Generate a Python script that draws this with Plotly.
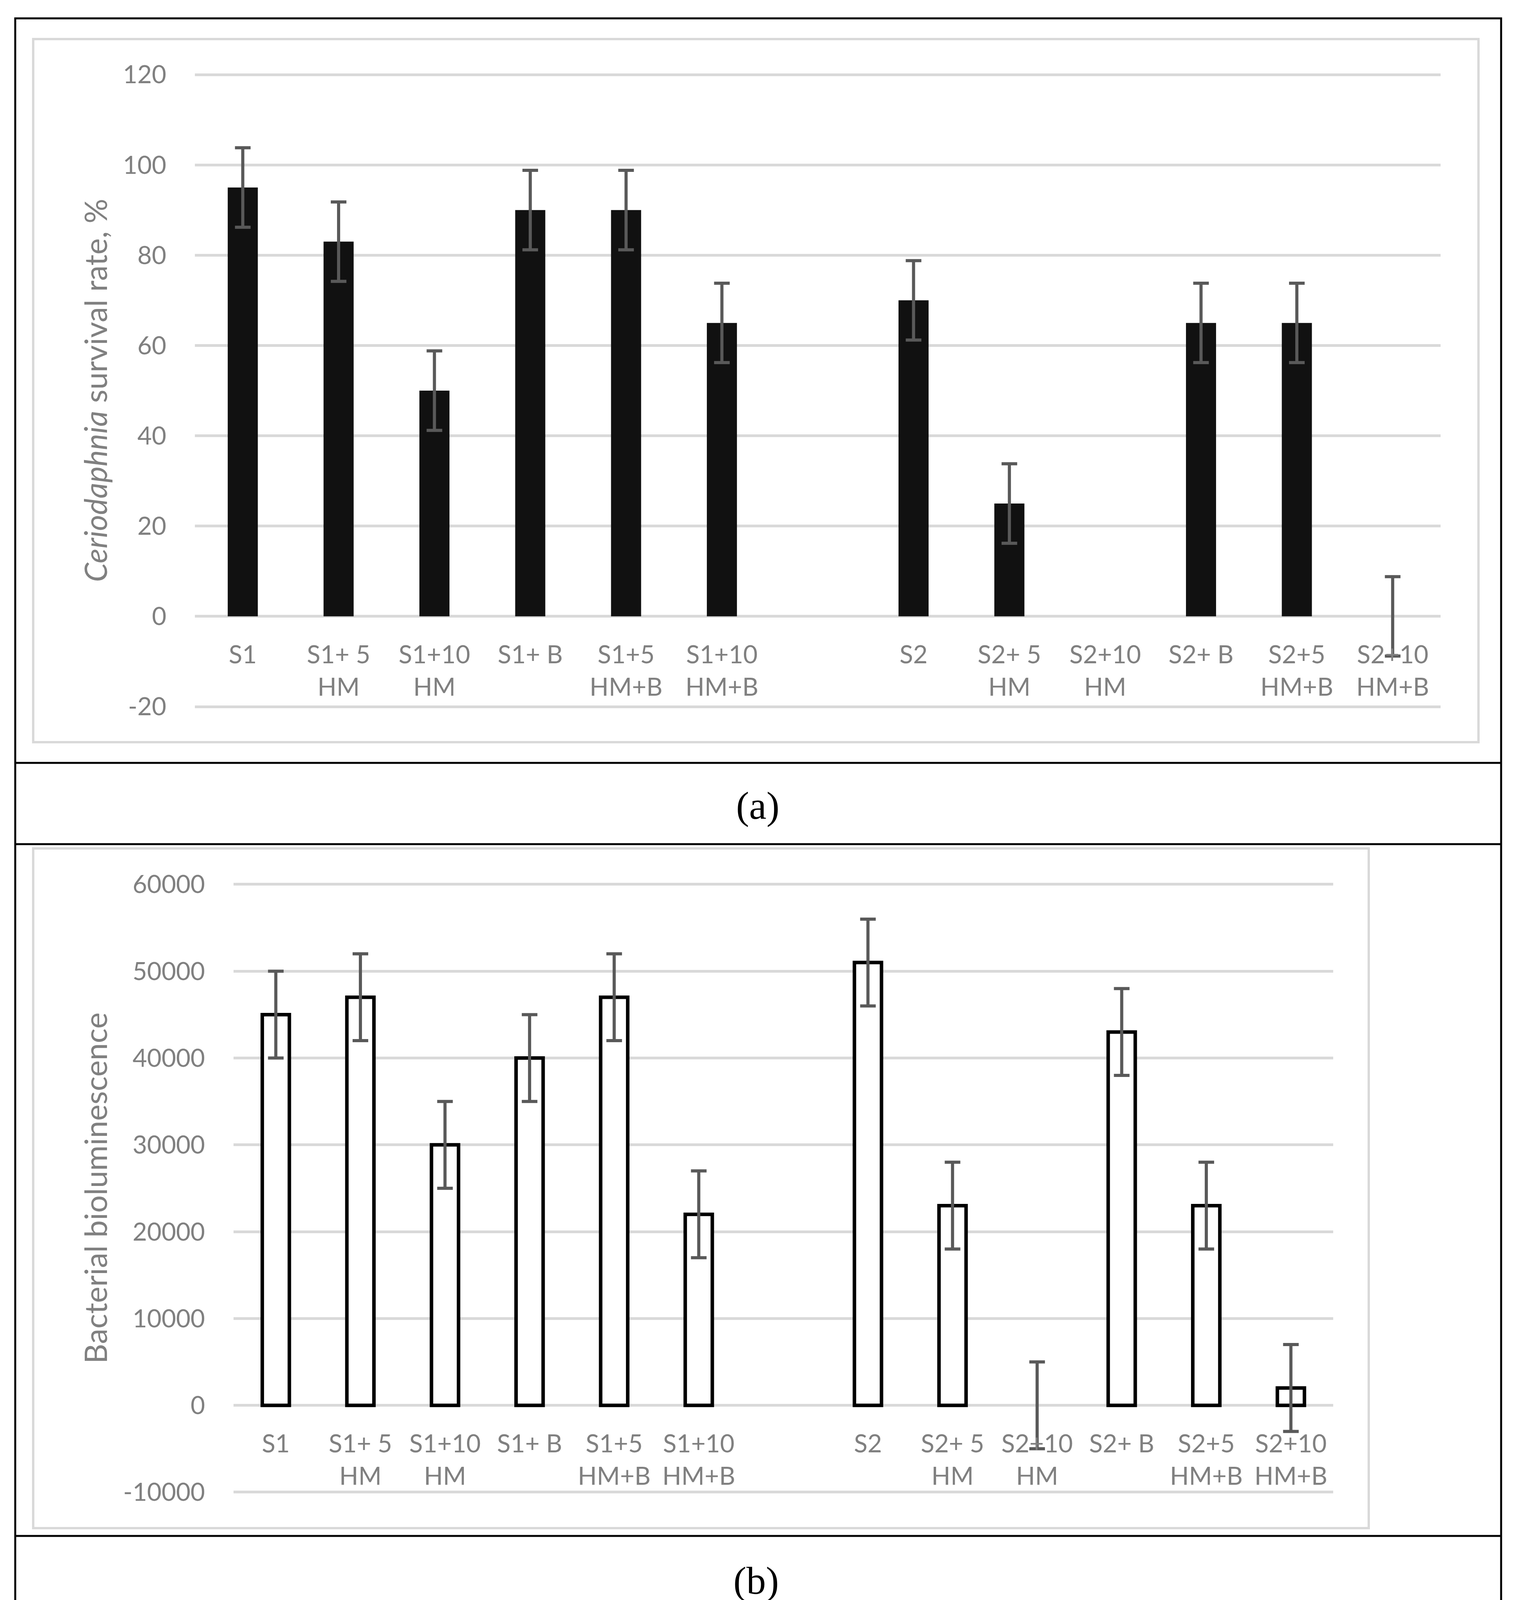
import plotly.graph_objects as go

# ---------------- data ----------------
categories = ["S1", "S1+ 5<br>HM", "S1+10<br>HM", "S1+ B", "S1+5<br>HM+B", "S1+10<br>HM+B",
              " ",
              "S2", "S2+ 5<br>HM", "S2+10<br>HM", "S2+ B", "S2+5<br>HM+B", "S2+10<br>HM+B"]
groups = ["S1", "S1+ 5<br>HM", "S1+10<br>HM", "S1+ B", "S1+5<br>HM+B", "S1+10<br>HM+B",
          "S2", "S2+ 5<br>HM", "S2+10<br>HM", "S2+ B", "S2+5<br>HM+B", "S2+10<br>HM+B"]

# S2+10 HM: no bar and no error bar shown in panel (a)
survival = [95, 83, 50, 90, 90, 65, 70, 25, None, 65, 65, 0]
survival_err = [8.8, 8.8, 8.8, 8.8, 8.8, 8.8, 8.8, 8.8, None, 8.8, 8.8, 8.8]

biolum = [45000, 47000, 30000, 40000, 47000, 22000, 51000, 23000, 0, 43000, 23000, 2000]
biolum_err = [5000, 5000, 5000, 5000, 5000, 5000, 5000, 5000, 5000, 5000, 5000, 5000]

ya_ticks = [-20, 0, 20, 40, 60, 80, 100, 120]
ya_labels = ["-20", "0", "20", "40", "60", "80", "100", "120"]
yb_ticks = [-10000, 0, 10000, 20000, 30000, 40000, 50000, 60000]
yb_labels = ["-10000", "0", "10000", "20000", "30000", "40000", "50000", "60000"]

# ---------------- geometry helpers ----------------
W, H = 3877, 4182
def fx(x):
    return x / W
def fy(y):
    return 1 - y / H

GRID = "#d9d9d9"
TXT = "#808080"
FONT = "Lato"

def y_setup(lo, hi, py_lo, py_hi, pad):
    ppu = (py_lo - py_hi) / (hi - lo)
    rng = [lo - pad, hi + pad]
    dom = [fy(py_lo + pad * ppu), fy(py_hi - pad * ppu)]
    return rng, dom

ya_range, ya_dom = y_setup(-20, 120, 1809, 191, 1)
yb_range, yb_dom = y_setup(-10000, 60000, 3820, 2264, 500)
xa_dom = [fx(499), fx(3689)]
xb_dom = [fx(598), fx(3414)]

def zero_pos(dom, rng):
    return dom[0] + (0 - rng[0]) / (rng[1] - rng[0]) * (dom[1] - dom[0])

# outline hidden for the zero-height bar (S2+10 HM)
b_line_w = [0 if v == 0 else 9 for v in biolum]

fig = go.Figure()

fig.add_trace(go.Bar(
    x=groups, y=survival, xaxis="x", yaxis="y",
    width=0.314,
    marker=dict(color="#111111", line=dict(width=0)),
    error_y=dict(type="data", array=survival_err, visible=True,
                 color="#595959", thickness=8, width=20),
    showlegend=False,
))

fig.add_trace(go.Bar(
    x=groups, y=biolum, xaxis="x2", yaxis="y2",
    width=0.32,
    marker=dict(color="white", line=dict(color="black", width=b_line_w)),
    error_y=dict(type="data", array=biolum_err, visible=True,
                 color="#595959", thickness=8, width=20),
    showlegend=False,
))

tickfont = dict(family=FONT, size=64, color=TXT)

common_x = dict(type="category", categoryorder="array", categoryarray=categories,
                showgrid=False, zeroline=False, showline=False, ticks="",
                tickfont=tickfont, automargin=False, fixedrange=True,
                anchor="free", ticklabelstandoff=55)
common_y = dict(showgrid=True, gridcolor=GRID, gridwidth=7, zeroline=False,
                showline=False, ticks="", tickfont=tickfont, automargin=False,
                tickmode="array", ticklabelstandoff=72)

fig.update_layout(
    width=W, height=H,
    margin=dict(l=0, r=0, t=0, b=0),
    paper_bgcolor="white", plot_bgcolor="white",
    font=dict(family=FONT, color=TXT),
    xaxis=dict(domain=xa_dom, position=zero_pos(ya_dom, ya_range), **common_x),
    yaxis=dict(domain=ya_dom, range=ya_range, anchor="x",
               tickvals=ya_ticks, ticktext=ya_labels, **common_y),
    xaxis2=dict(domain=xb_dom, position=zero_pos(yb_dom, yb_range), **common_x),
    yaxis2=dict(domain=yb_dom, range=yb_range, anchor="x2",
                tickvals=yb_ticks, ticktext=yb_labels, **common_y),
)

# frame / table lines
shapes = []
shapes.append(dict(type="rect", xref="paper", yref="paper",
                   x0=fx(39), x1=fx(3844), y0=fy(4140), y1=fy(47),
                   line=dict(color="black", width=5)))
for yy in (1953, 2161, 3932):
    shapes.append(dict(type="line", xref="paper", yref="paper",
                       x0=fx(39), x1=fx(3844), y0=fy(yy), y1=fy(yy),
                       line=dict(color="black", width=5)))
shapes.append(dict(type="rect", xref="paper", yref="paper",
                   x0=fx(85), x1=fx(3786), y0=fy(1900), y1=fy(100),
                   line=dict(color=GRID, width=6)))
shapes.append(dict(type="rect", xref="paper", yref="paper",
                   x0=fx(85), x1=fx(3505), y0=fy(3912), y1=fy(2172),
                   line=dict(color=GRID, width=6)))
fig.update_layout(shapes=shapes)

annotations = [
    dict(text="<i>Ceriodaphnia</i> survival rate, %", xref="paper", yref="paper",
         x=fx(243), y=fy(1000), textangle=-90, showarrow=False,
         xanchor="center", yanchor="middle",
         font=dict(family=FONT, size=79, color=TXT)),
    dict(text="Bacterial bioluminescence", xref="paper", yref="paper",
         x=fx(243), y=fy(3042), textangle=-90, showarrow=False,
         xanchor="center", yanchor="middle",
         font=dict(family=FONT, size=79, color=TXT)),
    dict(text="(a)", xref="paper", yref="paper", x=fx(1940), y=fy(2062),
         showarrow=False, xanchor="center", yanchor="middle",
         font=dict(family="Liberation Serif", size=100, color="black")),
    dict(text="(b)", xref="paper", yref="paper", x=fx(1936), y=fy(4046),
         showarrow=False, xanchor="center", yanchor="middle",
         font=dict(family="Liberation Serif", size=100, color="black")),
]
fig.update_layout(annotations=annotations)

fig.write_html(
    "out.html",
    config={"displayModeBar": False},
    post_script="document.body.style.margin='0';document.body.style.overflow='hidden';",
)
